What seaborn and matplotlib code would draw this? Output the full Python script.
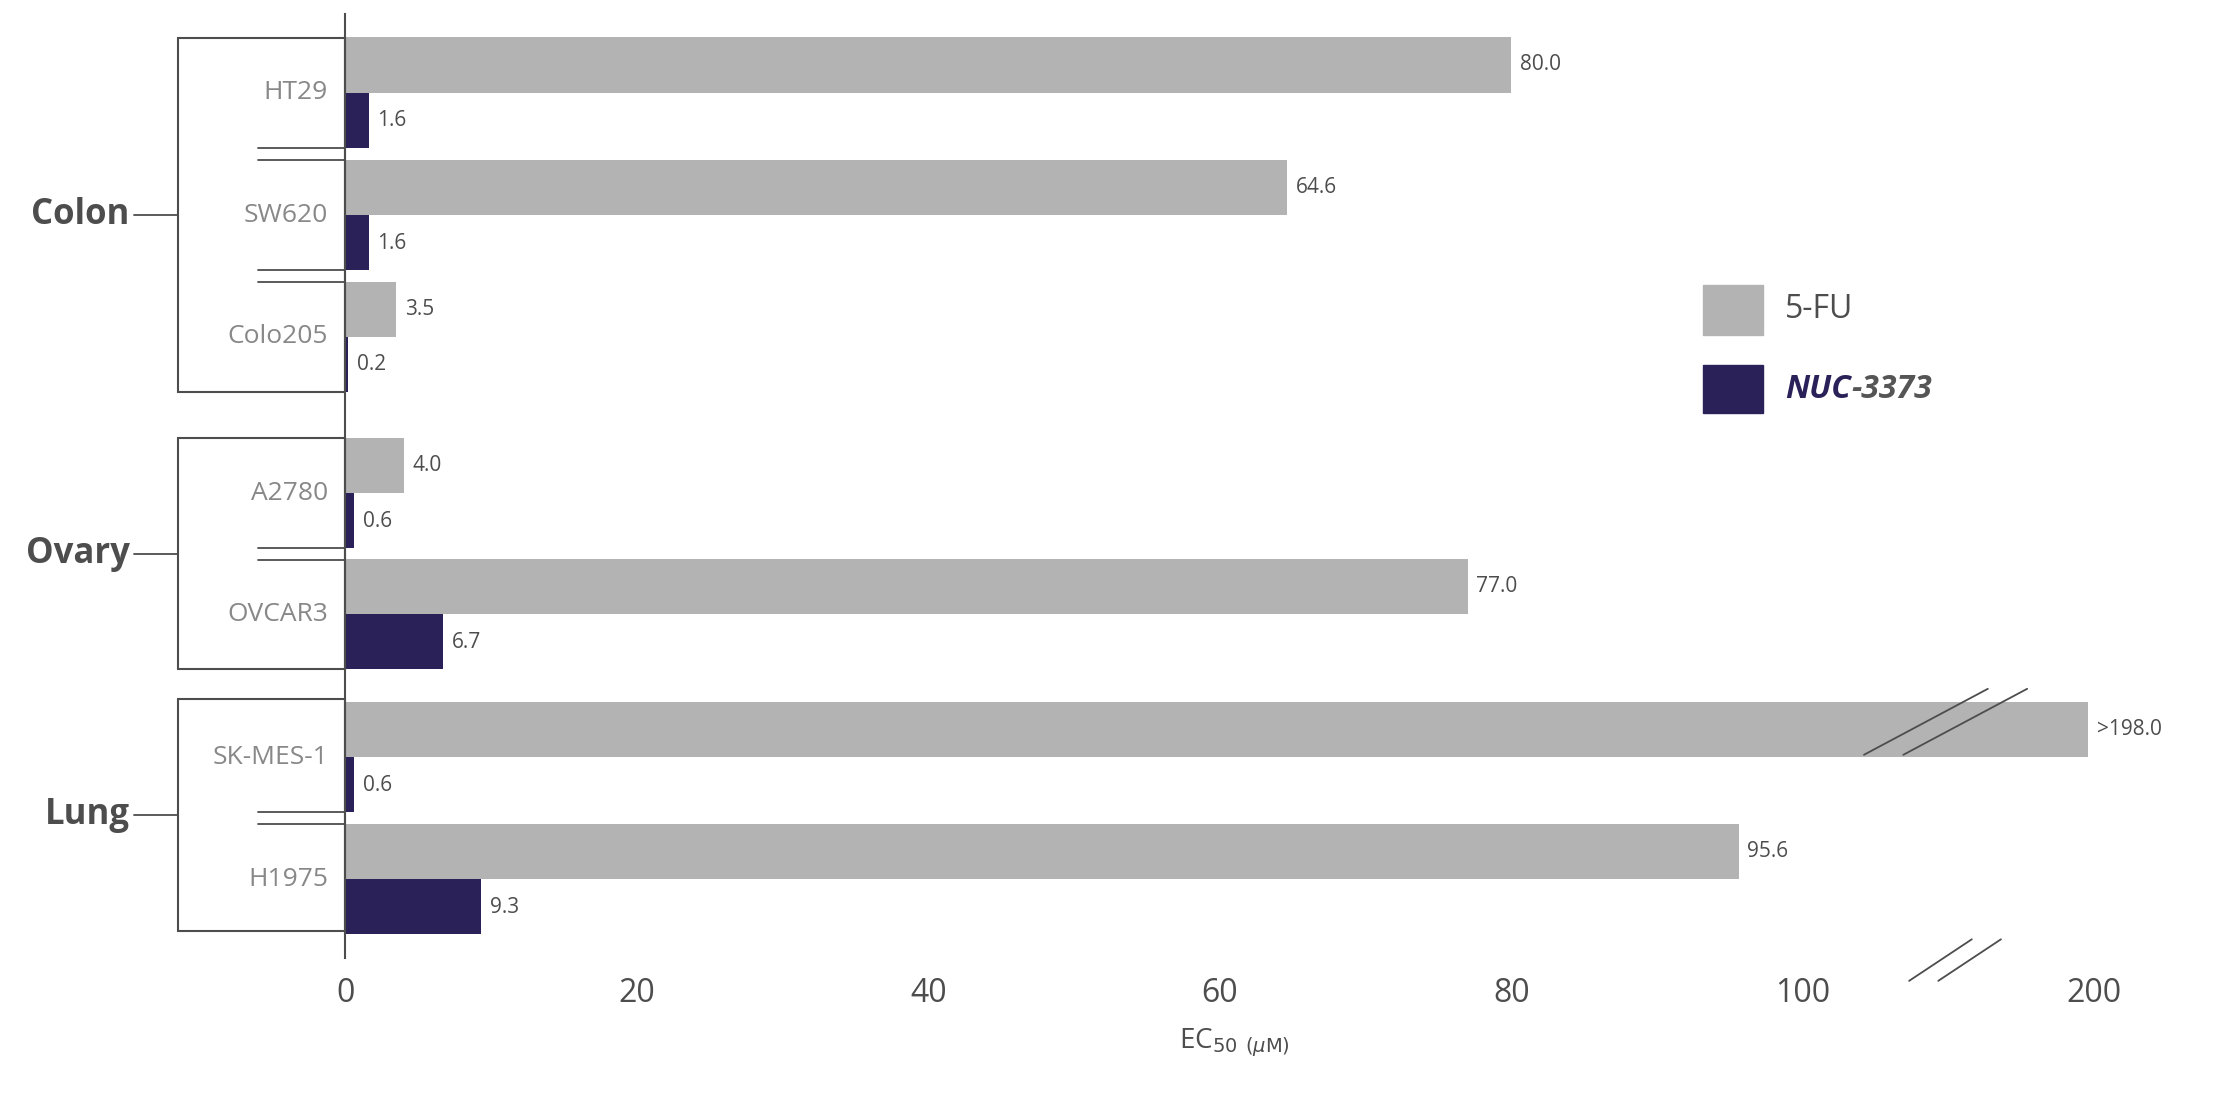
import numpy as np
import pandas as pd
import matplotlib
matplotlib.use("Agg")
import matplotlib.pyplot as plt
from matplotlib.patches import Rectangle
import seaborn as sns

# ---- data ----
cell_lines = ["HT29", "SW620", "Colo205", "A2780", "OVCAR3", "SK-MES-1", "H1975"]
tissues = ["Colon", "Ovary", "Lung"]
tissue_of = ["Colon", "Colon", "Colon", "Ovary", "Ovary", "Lung", "Lung"]
fu_values = [80.0, 64.6, 3.5, 4.0, 77.0, 198.0, 95.6]
nuc_values = [1.6, 1.6, 0.2, 0.6, 6.7, 0.6, 9.3]
fu_labels = ["80.0", "64.6", "3.5", "4.0", "77.0", ">198.0", "95.6"]
nuc_labels = ["1.6", "1.6", "0.2", "0.6", "6.7", "0.6", "9.3"]
tick_values = [0, 20, 40, 60, 80, 100, 200]
drugs = ["5-FU", "NUC-3373"]

# ---- layout ----
row_pos = [0.0, 1.006, 2.0, 3.28, 4.27, 5.44, 6.44]
GRAY, NAVY = "#b3b3b3", "#2b2159"

def brk(v):
    return v if v <= 100 else 100 + (v - 100) * 0.2

df = pd.DataFrame({
    "cell": cell_lines * 2,
    "pos": row_pos * 2,
    "drug": [drugs[0]] * 7 + [drugs[1]] * 7,
    "value": fu_values + nuc_values,
})
df["shown"] = df["value"].map(brk)

sns.set_style("white")
plt.rcParams["font.family"] = ["Open Sans", "DejaVu Sans"]

fig = plt.figure(figsize=(22.29, 11.02), dpi=100)
ax = fig.add_axes([0.155, 0.131, 0.7976, 0.856])
sns.barplot(data=df, x="shown", y="pos", hue="drug", hue_order=drugs,
            orient="h", native_scale=True, palette=[GRAY, NAVY],
            width=0.91, ax=ax, legend=False, saturation=1, linewidth=0)
ax.set_xlim(0, 122)
ax.set_ylim(7.08, -0.64)
for s in ["top", "right", "bottom"]:
    ax.spines[s].set_visible(False)
ax.spines["left"].set_color("#4d4d4d")
ax.spines["left"].set_linewidth(1.5)
ax.set_yticks([])
ax.set_ylabel("")
ax.set_xticks([brk(t) for t in tick_values])
ax.set_xticklabels([str(t) for t in tick_values], fontsize=23, color="#4d4d4d")
ax.tick_params(axis="x", length=0, pad=14)
ax.set_xlabel(r"EC$_{50}$ $_{(\mu\mathrm{M})}$", fontsize=20, color="#4d4d4d", labelpad=12)

off = 0.2275
for i, p in enumerate(row_pos):
    ax.text(brk(fu_values[i]) + 0.6, p - off, fu_labels[i], va="center", fontsize=15, color="#4d4d4d")
    ax.text(brk(nuc_values[i]) + 0.6, p + off, nuc_labels[i], va="center", fontsize=15, color="#4d4d4d")
    ax.text(-1.2, p, cell_lines[i], ha="right", va="center", fontsize=19, color="#888888")

lc = "#4d4d4d"
for a, b in zip(row_pos[:-1], row_pos[1:]):
    if tissue_of[row_pos.index(a)] == tissue_of[row_pos.index(b)]:
        m = (a + b) / 2
        for d in (-0.05, 0.05):
            ax.plot([-6, 0], [m + d, m + d], color=lc, lw=1.3, clip_on=False)

boxes = {"Colon": (-0.45, 2.45), "Ovary": (2.83, 4.72), "Lung": (4.96, 6.86)}
for t in tissues:
    y0, y1 = boxes[t]
    ax.add_patch(Rectangle((-11.5, y0), 11.5, y1 - y0, fill=False, ec=lc, lw=1.5, clip_on=False))
    idx = [i for i, tt in enumerate(tissue_of) if tt == t]
    yc = (y0 + y1) / 2
    ax.plot([-14.5, -11.5], [yc, yc], color=lc, lw=1.3, clip_on=False)
    ax.text(-14.8, yc, t, ha="right", va="center", fontsize=25, fontweight="bold", color="#4d4d4d")

# break marks
for dx in (0, 2.7):
    ax.plot([104.2 + dx, 112.7 + dx], [5.42, 4.88], color=lc, lw=1.3, clip_on=False)
for dx in (0, 2.0):
    ax.plot([107.3 + dx, 111.6 + dx], [7.27, 6.93], color=lc, lw=1.3, clip_on=False)

# legend
fig.patches.append(Rectangle((0.764, 0.696), 0.027, 0.045, transform=fig.transFigure, color=GRAY))
fig.patches.append(Rectangle((0.764, 0.625), 0.027, 0.044, transform=fig.transFigure, color=NAVY))
fig.text(0.801, 0.719, "5-FU", va="center", fontsize=23, color="#4d4d4d")
t1 = fig.text(0.801, 0.647, "NUC", va="center", fontsize=23, color=NAVY, fontweight="bold", style="italic")
fig.canvas.draw()
bb = t1.get_window_extent().transformed(fig.transFigure.inverted())
fig.text(bb.x1, 0.647, "-3373", va="center", fontsize=23, color="#555555", fontweight="bold", style="italic")

fig.savefig("out.png", dpi=100)
